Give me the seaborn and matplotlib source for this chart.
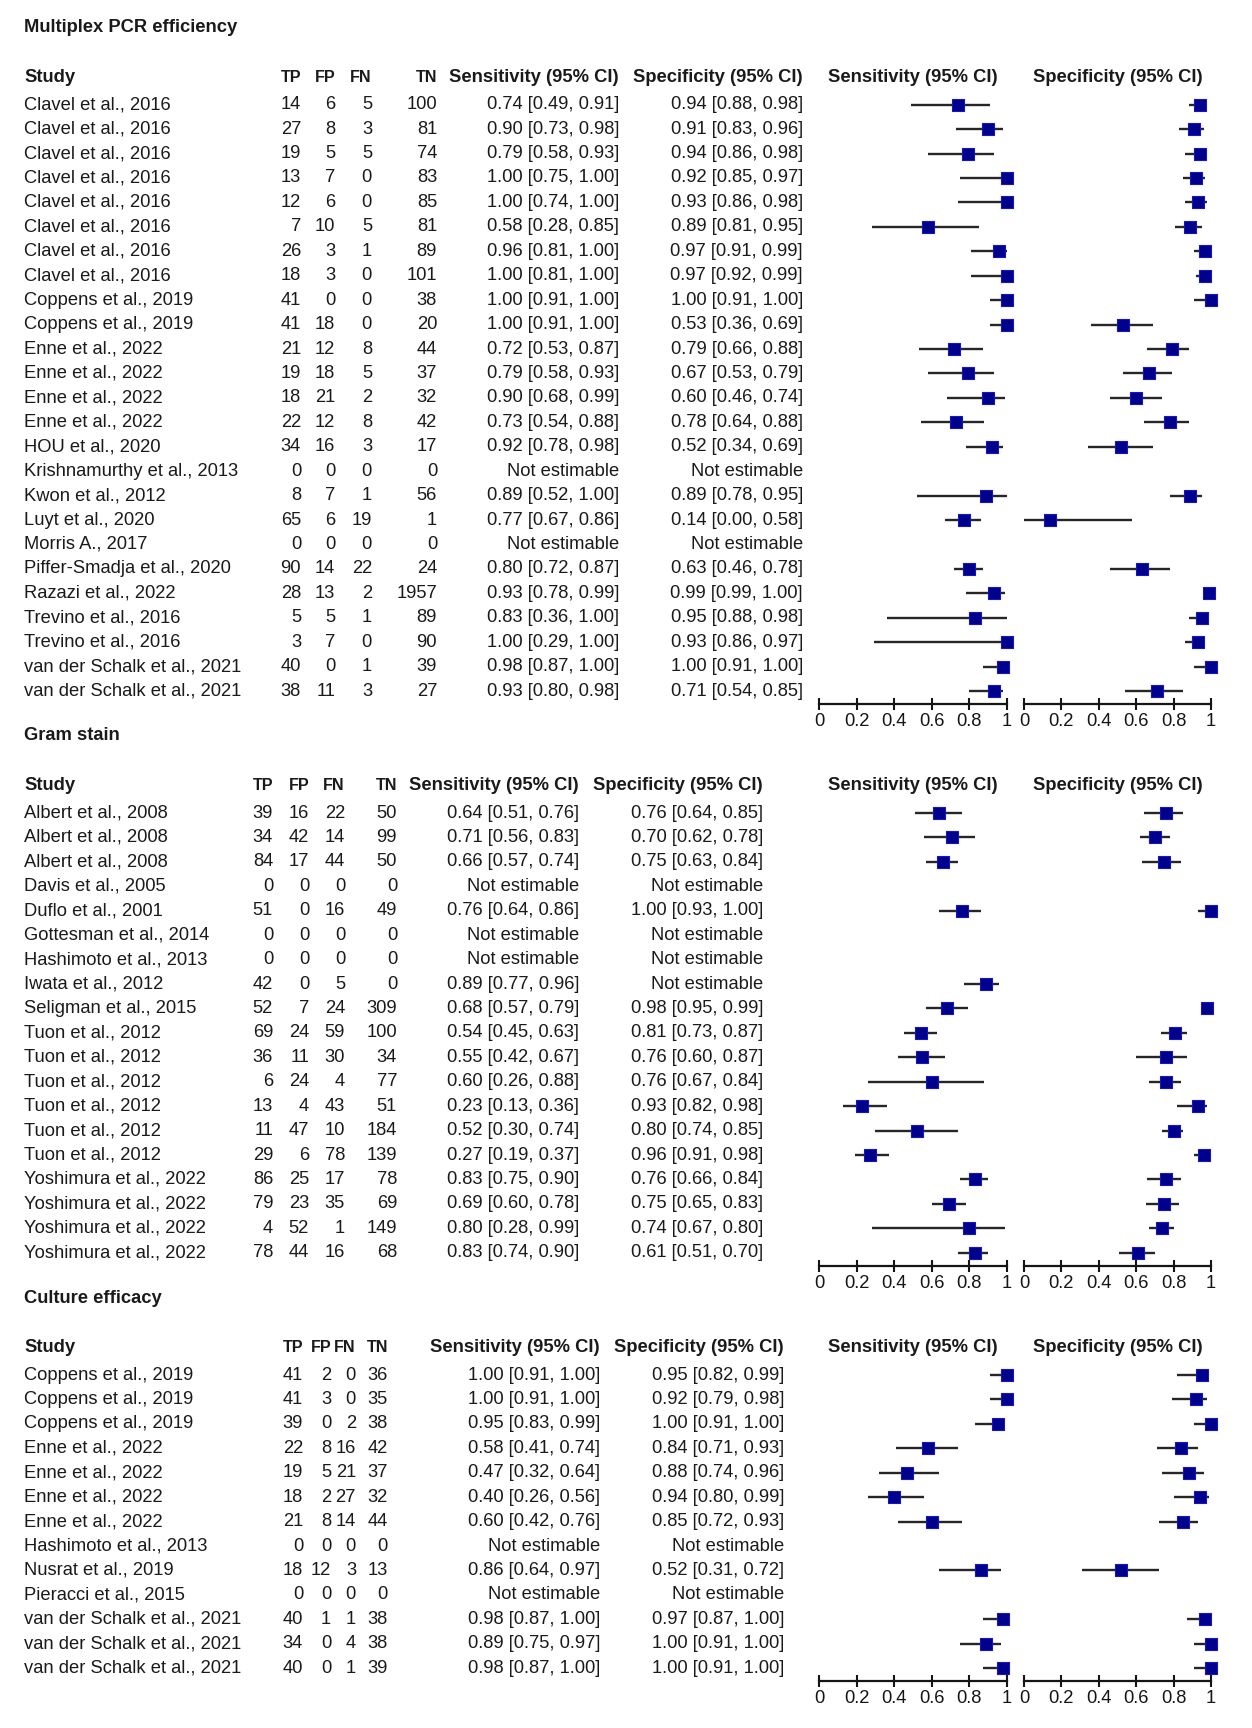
import numpy as np
import pandas as pd
import matplotlib
matplotlib.use("Agg")
import matplotlib.pyplot as plt
import matplotlib.transforms as mtransforms
from matplotlib import font_manager
import seaborn as sns

NE = np.nan

# ---------------- Section 1: Multiplex PCR efficiency ----------------
pcr_title = "Multiplex PCR efficiency"
pcr_study = ["Clavel et al., 2016"] * 8 + ["Coppens et al., 2019"] * 2 + ["Enne et al., 2022"] * 4 + [
    "HOU et al., 2020", "Krishnamurthy et al., 2013", "Kwon et al., 2012", "Luyt et al., 2020",
    "Morris A., 2017", "Piffer-Smadja et al., 2020", "Razazi et al., 2022",
    "Trevino et al., 2016", "Trevino et al., 2016",
    "van der Schalk et al., 2021", "van der Schalk et al., 2021"]
pcr_tp = [14, 27, 19, 13, 12, 7, 26, 18, 41, 41, 21, 19, 18, 22, 34, 0, 8, 65, 0, 90, 28, 5, 3, 40, 38]
pcr_fp = [6, 8, 5, 7, 6, 10, 3, 3, 0, 18, 12, 18, 21, 12, 16, 0, 7, 6, 0, 14, 13, 5, 7, 0, 11]
pcr_fn = [5, 3, 5, 0, 0, 5, 1, 0, 0, 0, 8, 5, 2, 8, 3, 0, 1, 19, 0, 22, 2, 1, 0, 1, 3]
pcr_tn = [100, 81, 74, 83, 85, 81, 89, 101, 38, 20, 44, 37, 32, 42, 17, 0, 56, 1, 0, 24, 1957, 89, 90, 39, 27]
pcr_sens = [0.74, 0.90, 0.79, 1.00, 1.00, 0.58, 0.96, 1.00, 1.00, 1.00, 0.72, 0.79, 0.90, 0.73, 0.92, NE, 0.89, 0.77, NE, 0.80, 0.93, 0.83, 1.00, 0.98, 0.93]
pcr_sens_lo = [0.49, 0.73, 0.58, 0.75, 0.74, 0.28, 0.81, 0.81, 0.91, 0.91, 0.53, 0.58, 0.68, 0.54, 0.78, NE, 0.52, 0.67, NE, 0.72, 0.78, 0.36, 0.29, 0.87, 0.80]
pcr_sens_hi = [0.91, 0.98, 0.93, 1.00, 1.00, 0.85, 1.00, 1.00, 1.00, 1.00, 0.87, 0.93, 0.99, 0.88, 0.98, NE, 1.00, 0.86, NE, 0.87, 0.99, 1.00, 1.00, 1.00, 0.98]
pcr_spec = [0.94, 0.91, 0.94, 0.92, 0.93, 0.89, 0.97, 0.97, 1.00, 0.53, 0.79, 0.67, 0.60, 0.78, 0.52, NE, 0.89, 0.14, NE, 0.63, 0.99, 0.95, 0.93, 1.00, 0.71]
pcr_spec_lo = [0.88, 0.83, 0.86, 0.85, 0.86, 0.81, 0.91, 0.92, 0.91, 0.36, 0.66, 0.53, 0.46, 0.64, 0.34, NE, 0.78, 0.00, NE, 0.46, 0.99, 0.88, 0.86, 0.91, 0.54]
pcr_spec_hi = [0.98, 0.96, 0.98, 0.97, 0.98, 0.95, 0.99, 0.99, 1.00, 0.69, 0.88, 0.79, 0.74, 0.88, 0.69, NE, 0.95, 0.58, NE, 0.78, 1.00, 0.98, 0.97, 1.00, 0.85]

# ---------------- Section 2: Gram stain ----------------
gram_title = "Gram stain"
gram_study = ["Albert et al., 2008"] * 3 + ["Davis et al., 2005", "Duflo et al., 2001", "Gottesman et al., 2014",
    "Hashimoto et al., 2013", "Iwata et al., 2012", "Seligman et al., 2015"] + ["Tuon et al., 2012"] * 6 + \
    ["Yoshimura et al., 2022"] * 4
gram_tp = [39, 34, 84, 0, 51, 0, 0, 42, 52, 69, 36, 6, 13, 11, 29, 86, 79, 4, 78]
gram_fp = [16, 42, 17, 0, 0, 0, 0, 0, 7, 24, 11, 24, 4, 47, 6, 25, 23, 52, 44]
gram_fn = [22, 14, 44, 0, 16, 0, 0, 5, 24, 59, 30, 4, 43, 10, 78, 17, 35, 1, 16]
gram_tn = [50, 99, 50, 0, 49, 0, 0, 0, 309, 100, 34, 77, 51, 184, 139, 78, 69, 149, 68]
gram_sens = [0.64, 0.71, 0.66, NE, 0.76, NE, NE, 0.89, 0.68, 0.54, 0.55, 0.60, 0.23, 0.52, 0.27, 0.83, 0.69, 0.80, 0.83]
gram_sens_lo = [0.51, 0.56, 0.57, NE, 0.64, NE, NE, 0.77, 0.57, 0.45, 0.42, 0.26, 0.13, 0.30, 0.19, 0.75, 0.60, 0.28, 0.74]
gram_sens_hi = [0.76, 0.83, 0.74, NE, 0.86, NE, NE, 0.96, 0.79, 0.63, 0.67, 0.88, 0.36, 0.74, 0.37, 0.90, 0.78, 0.99, 0.90]
gram_spec = [0.76, 0.70, 0.75, NE, 1.00, NE, NE, NE, 0.98, 0.81, 0.76, 0.76, 0.93, 0.80, 0.96, 0.76, 0.75, 0.74, 0.61]
gram_spec_lo = [0.64, 0.62, 0.63, NE, 0.93, NE, NE, NE, 0.95, 0.73, 0.60, 0.67, 0.82, 0.74, 0.91, 0.66, 0.65, 0.67, 0.51]
gram_spec_hi = [0.85, 0.78, 0.84, NE, 1.00, NE, NE, NE, 0.99, 0.87, 0.87, 0.84, 0.98, 0.85, 0.98, 0.84, 0.83, 0.80, 0.70]

# ---------------- Section 3: Culture efficacy ----------------
cult_title = "Culture efficacy"
cult_study = ["Coppens et al., 2019"] * 3 + ["Enne et al., 2022"] * 4 + ["Hashimoto et al., 2013",
    "Nusrat et al., 2019", "Pieracci et al., 2015"] + ["van der Schalk et al., 2021"] * 3
cult_tp = [41, 41, 39, 22, 19, 18, 21, 0, 18, 0, 40, 34, 40]
cult_fp = [2, 3, 0, 8, 5, 2, 8, 0, 12, 0, 1, 0, 0]
cult_fn = [0, 0, 2, 16, 21, 27, 14, 0, 3, 0, 1, 4, 1]
cult_tn = [36, 35, 38, 42, 37, 32, 44, 0, 13, 0, 38, 38, 39]
cult_sens = [1.00, 1.00, 0.95, 0.58, 0.47, 0.40, 0.60, NE, 0.86, NE, 0.98, 0.89, 0.98]
cult_sens_lo = [0.91, 0.91, 0.83, 0.41, 0.32, 0.26, 0.42, NE, 0.64, NE, 0.87, 0.75, 0.87]
cult_sens_hi = [1.00, 1.00, 0.99, 0.74, 0.64, 0.56, 0.76, NE, 0.97, NE, 1.00, 0.97, 1.00]
cult_spec = [0.95, 0.92, 1.00, 0.84, 0.88, 0.94, 0.85, NE, 0.52, NE, 0.97, 1.00, 1.00]
cult_spec_lo = [0.82, 0.79, 0.91, 0.71, 0.74, 0.80, 0.72, NE, 0.31, NE, 0.87, 0.91, 0.91]
cult_spec_hi = [0.99, 0.98, 1.00, 0.93, 0.96, 0.99, 0.93, NE, 0.72, NE, 1.00, 1.00, 1.00]

tick_vals = [0, 0.2, 0.4, 0.6, 0.8, 1.0]
tick_labels = ["0", "0.2", "0.4", "0.6", "0.8", "1"]
col_headers = ["TP", "FP", "FN", "TN"]
ci_header_sens = "Sensitivity (95% CI)"
ci_header_spec = "Specificity (95% CI)"

# ---------------- layout (pixels) ----------------
W, H = 1252, 1728
ROW = 24.43
AX_GAP = 13.0
FS = 13.2
TXT = "#1a1a1a"
sections = [
    dict(title=pcr_title, study=pcr_study, tp=pcr_tp, fp=pcr_fp, fn=pcr_fn, tn=pcr_tn,
         sens=pcr_sens, sens_lo=pcr_sens_lo, sens_hi=pcr_sens_hi,
         spec=pcr_spec, spec_lo=pcr_spec_lo, spec_hi=pcr_spec_hi,
         first=104.7, cols=[301, 335, 372, 437, 619, 803]),
    dict(title=gram_title, study=gram_study, tp=gram_tp, fp=gram_fp, fn=gram_fn, tn=gram_tn,
         sens=gram_sens, sens_lo=gram_sens_lo, sens_hi=gram_sens_hi,
         spec=gram_spec, spec_lo=gram_spec_lo, spec_hi=gram_spec_hi,
         first=813.0, cols=[273, 309, 345, 397, 579, 763]),
    dict(title=cult_title, study=cult_study, tp=cult_tp, fp=cult_fp, fn=cult_fn, tn=cult_tn,
         sens=cult_sens, sens_lo=cult_sens_lo, sens_hi=cult_sens_hi,
         spec=cult_spec, spec_lo=cult_spec_lo, spec_hi=cult_spec_hi,
         first=1375.0, cols=[303, 331, 356, 388, 600, 784]),
]
STUDY_X = 24
SENS_AX = (819, 1007)
SPEC_AX = (1024, 1211)

sns.set_style("white")
plt.rcParams["font.family"] = ["Liberation Sans", "DejaVu Sans"]
plt.rcParams["font.size"] = FS

_names = {f.name for f in font_manager.fontManager.ttflist}
if "Liberation Sans Narrow" in _names:
    HDR_KW = dict(family=["Liberation Sans Narrow", "Liberation Sans", "DejaVu Sans"], fontsize=FS)
else:
    HDR_KW = dict(fontsize=11.6)

fig = plt.figure(figsize=(W / 100, H / 100), dpi=100)


def fmt(v, lo, hi):
    if np.isnan(v):
        return "Not estimable"
    return f"{v:.2f} [{lo:.2f}, {hi:.2f}]"


def forest_axis(px, top_px, bot_px, n):
    ax = fig.add_axes([px[0] / W, 1 - bot_px / H, (px[1] - px[0]) / W, (bot_px - top_px) / H])
    ax.set_xlim(0, 1)
    ax.set_ylim(n - 1 + AX_GAP / ROW, -0.5)
    ax.patch.set_alpha(0)
    sns.despine(ax=ax, left=True)
    ax.spines["bottom"].set_linewidth(1.6)
    ax.spines["bottom"].set_color("#151515")
    ax.set_yticks([])
    ax.set_xticks(tick_vals)
    ax.set_xticklabels(tick_labels)
    ax.tick_params(axis="x", bottom=True, direction="inout", length=9, width=1.5, pad=2.0,
                   labelsize=FS, colors="#151515")
    return ax


for sec in sections:
    n = len(sec["study"])
    first = sec["first"]
    last = first + (n - 1) * ROW
    top_px = first - 0.5 * ROW
    bot_px = last + AX_GAP
    df = pd.DataFrame({
        "row": np.arange(n), "sens": sec["sens"], "sens_lo": sec["sens_lo"], "sens_hi": sec["sens_hi"],
        "spec": sec["spec"], "spec_lo": sec["spec_lo"], "spec_hi": sec["spec_hi"]})

    ax_se = forest_axis(SENS_AX, top_px, bot_px, n)
    ax_sp = forest_axis(SPEC_AX, top_px, bot_px, n)
    for ax, key in [(ax_se, "sens"), (ax_sp, "spec")]:
        d = df.dropna(subset=[key])
        ax.hlines(d["row"], d[key + "_lo"], d[key + "_hi"], color="#262626", lw=1.7, zorder=2)
        sns.scatterplot(data=d, x=key, y="row", marker="s", s=66, color="#00008a",
                        edgecolor="#1414c8", linewidth=0.8, ax=ax, zorder=3, clip_on=False, legend=False)
        ax.set_xlabel("")
        ax.set_ylabel("")
        bt = mtransforms.blended_transform_factory(ax.transAxes, ax.transData)
        ax.text(0.5, -27.5 / ROW, ci_header_sens if key == "sens" else ci_header_spec,
                transform=bt, ha="center", va="center", fontweight="bold", fontsize=FS, color=TXT)

    tr = mtransforms.blended_transform_factory(fig.transFigure, ax_se.transData)
    c = sec["cols"]
    ax_se.text(STUDY_X / W, -77 / ROW, sec["title"], transform=tr, ha="left", va="center",
               fontweight="bold", fontsize=FS, color=TXT)
    hy = -27.5 / ROW
    ax_se.text(STUDY_X / W, hy, "Study", transform=tr, ha="left", va="center",
               fontweight="bold", fontsize=FS, color=TXT)
    for j, h in enumerate(col_headers):
        ax_se.text(c[j] / W, hy, h, transform=tr, ha="right", va="center",
                   fontweight="bold", color=TXT, **HDR_KW)
    ax_se.text(c[4] / W, hy, ci_header_sens, transform=tr, ha="right", va="center",
               fontweight="bold", fontsize=FS, color=TXT)
    ax_se.text(c[5] / W, hy, ci_header_spec, transform=tr, ha="right", va="center",
               fontweight="bold", fontsize=FS, color=TXT)
    for i in range(n):
        vals = [sec["tp"][i], sec["fp"][i], sec["fn"][i], sec["tn"][i]]
        ax_se.text(STUDY_X / W, i, sec["study"][i], transform=tr, ha="left", va="center",
                   fontsize=FS, color=TXT)
        for j, v in enumerate(vals):
            ax_se.text(c[j] / W, i, str(v), transform=tr, ha="right", va="center",
                       fontsize=FS, color=TXT)
        ax_se.text(c[4] / W, i, fmt(sec["sens"][i], sec["sens_lo"][i], sec["sens_hi"][i]),
                   transform=tr, ha="right", va="center", fontsize=FS, color=TXT)
        ax_se.text(c[5] / W, i, fmt(sec["spec"][i], sec["spec_lo"][i], sec["spec_hi"][i]),
                   transform=tr, ha="right", va="center", fontsize=FS, color=TXT)

fig.savefig("out.png", dpi=100, facecolor="white")
